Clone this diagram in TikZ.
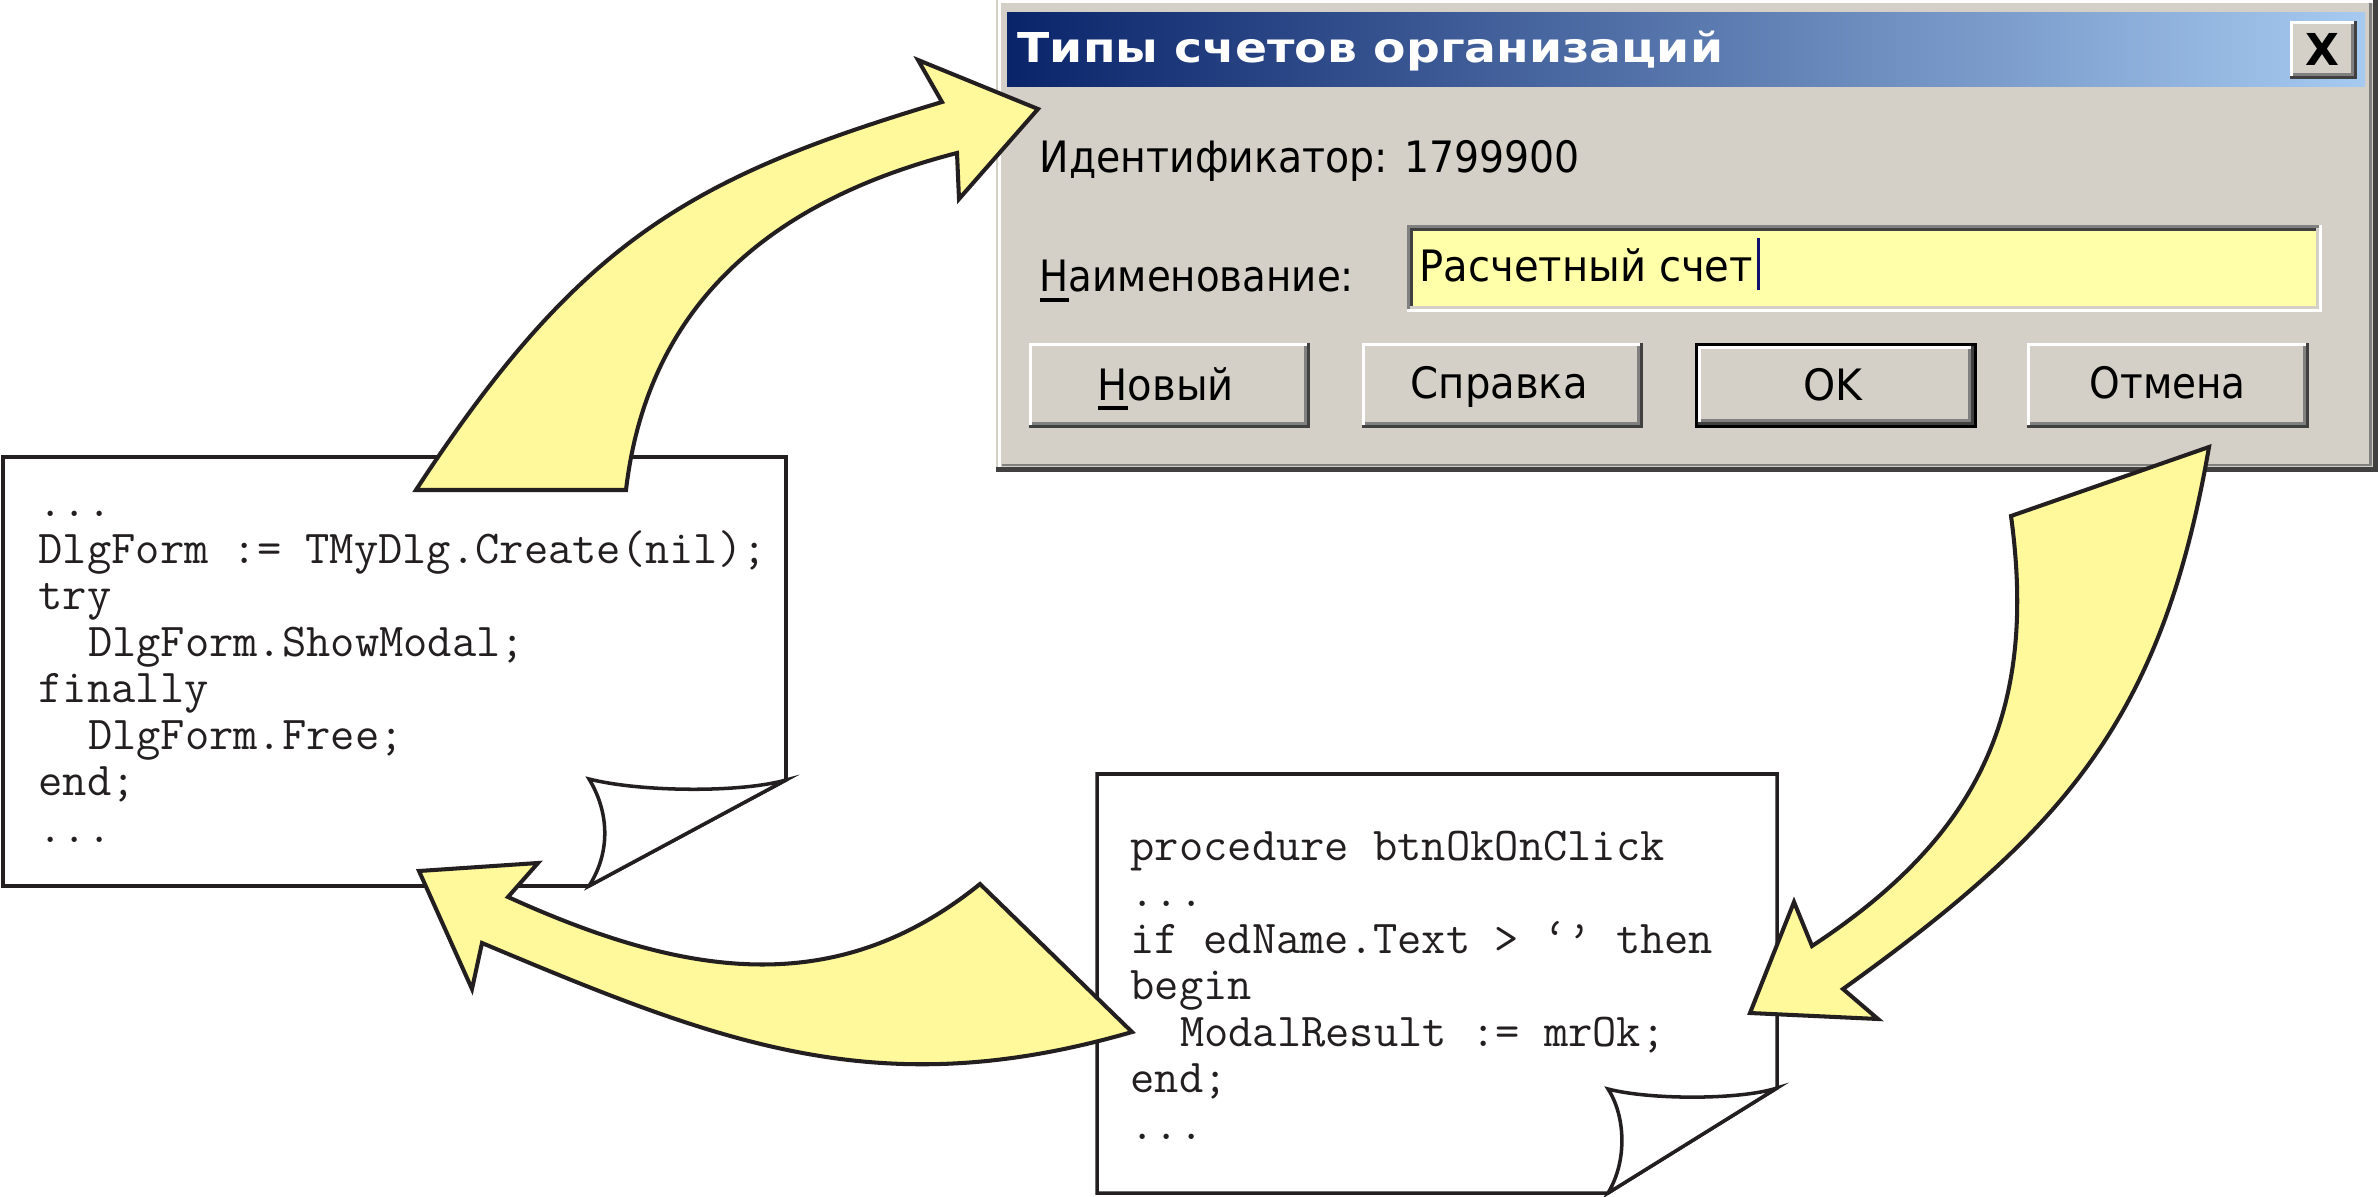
\documentclass[tikz,border=0pt]{standalone}
\usepackage{fontspec}
\usepackage{graphicx}
\newfontfamily\dlgfont{DejaVu Sans}
\definecolor{face}{RGB}{212,208,200}
\definecolor{dkshadow}{RGB}{64,64,64}
\definecolor{shadowc}{RGB}{128,128,128}
\definecolor{titleL}{RGB}{10,36,106}
\definecolor{titleR}{RGB}{166,202,240}
\definecolor{editbg}{RGB}{255,255,170}
\definecolor{arrowfill}{RGB}{255,249,155}
\definecolor{ink}{RGB}{35,31,32}
\definecolor{caret}{RGB}{16,16,112}
\newlength\ulw
\newcommand\ulc[1]{\settowidth\ulw{#1}\rlap{\rule[-0.22em]{\ulw}{0.07em}}#1}
\newcommand\fitw[2]{\resizebox{#1}{\height}{#2}}
\newcommand\raisedbtn[4]{%
  \fill[face] (#1,#2) rectangle (#3,#4);
  \draw[white, line width=0.85pt] (#1+1.5,#4-3) -- (#1+1.5,#2+1.5) -- (#3-3,#2+1.5);
  \draw[dkshadow, line width=0.85pt] (#1,#4-1.5) -- (#3-1.5,#4-1.5) -- (#3-1.5,#2);
  \draw[shadowc, line width=0.85pt] (#1+3,#4-4.5) -- (#3-4.5,#4-4.5) -- (#3-4.5,#2+3);
}
\begin{document}
\begin{tikzpicture}[x=0.01cm,y=-0.01cm,
  dlgtext/.style={inner sep=0pt, anchor=base west, text=black,
    font=\dlgfont\fontsize{12.3pt}{14pt}\selectfont},
  code/.style={inner sep=0pt, anchor=base west, text=ink,
    font=\ttfamily\fontsize{13.4pt}{15pt}\selectfont},
  bigarrow/.style={fill=arrowfill, draw=ink, line width=1.15pt, line join=miter},
  page/.style={fill=white, draw=ink, line width=1pt, line join=miter}]
\useasboundingbox (0,0) rectangle (2378,1197);
\fill[white] (0,0) rectangle (2378,1197);

% ---------- dialog window ----------
\fill[face] (996,0) rectangle (2378,472);
\draw[white, line width=0.85pt] (999.5,468) -- (999.5,1.5) -- (2373,1.5);
\draw[shadowc, line width=0.85pt] (1002,465) -- (2370,465) -- (2370,3);
\draw[dkshadow, line width=1.4pt] (996,469.5) -- (2375.5,469.5) -- (2375.5,0);
\shade[left color=titleL, right color=titleR] (1007,13) rectangle (2365,87);
\node[dlgtext, text=white, font=\dlgfont\bfseries\fontsize{11.7pt}{14pt}\selectfont]
  (title) at (1017,63) {\fitw{7.05cm}{Типы счетов организаций}};
\raisedbtn{2290}{21}{2357}{79}
\node[inner sep=0pt, font=\dlgfont\bfseries\fontsize{12.5pt}{14pt}\selectfont] (closex) at (2322,49) {X};

\node[dlgtext] (idlbl) at (1039,173) {\fitw{5.4cm}{Идентификатор: 1799900}};
\node[dlgtext] (namelbl) at (1039,292) {\fitw{3.14cm}{\ulc{Н}аименование:}};

% edit box
\fill[editbg] (1407,225) rectangle (2322,312);
\draw[shadowc, line width=0.85pt] (1408.5,311) -- (1408.5,226.5) -- (2321,226.5);
\draw[dkshadow, line width=0.85pt] (1411.5,308) -- (1411.5,229.5) -- (2318,229.5);
\draw[white, line width=0.85pt] (1407,310.5) -- (2320.5,310.5) -- (2320.5,225);
\draw[face, line width=0.85pt] (1410,307.5) -- (2317.5,307.5) -- (2317.5,228);
\node[dlgtext] (edtext) at (1419,282) {\fitw{3.33cm}{Расчетный счет}};
\draw[caret, line width=0.85pt] (1758,238) -- (1758,290);

% buttons
\raisedbtn{1029}{343}{1310}{428}
\raisedbtn{1362}{343}{1643}{428}
\fill[black] (1695,343) rectangle (1977,428);
\raisedbtn{1698}{346}{1974}{425}
\raisedbtn{2027}{343}{2309}{428}
\node[dlgtext] (bnew) at (1097,400) {\fitw{1.36cm}{\ulc{Н}овый}};
\node[dlgtext] (bhelp) at (1410,398) {\fitw{1.77cm}{Справка}};
\node[dlgtext] (bok) at (1803,400) {\fitw{0.59cm}{OK}};
\node[dlgtext] (bcancel) at (2089,398) {\fitw{1.56cm}{Отмена}};

% ---------- left code note ----------
\draw[page] (3,457) -- (786,457) -- (786,780) -- (589,886) -- (3,886) -- cycle;
\draw[page] (589,779) .. controls (640,792) and (740,793) .. (786,780)
  -- (589,886) .. controls (612,850) and (608,810) .. (589,779) -- cycle;
\node[code] (lc1) at (38,516.5) {...};
\node[code] (lc2) at (38,563) {DlgForm := TMyDlg.Create(nil);};
\node[code] (lc3) at (38,609.5) {try};
\node[code] (lc4) at (87.4,656) {DlgForm.ShowModal;};
\node[code] (lc5) at (38,702.5) {finally};
\node[code] (lc6) at (87.4,749) {DlgForm.Free;};
\node[code] (lc7) at (38,795.5) {end;};
\node[code] (lc8) at (38,842) {...};

% ---------- bottom code note ----------
\draw[page] (1097,774) -- (1777,774) -- (1777,1088) -- (1608,1193) -- (1097,1193) -- cycle;
\draw[page] (1608,1089) .. controls (1650,1100) and (1740,1100) .. (1777,1088)
  -- (1608,1193) .. controls (1628,1160) and (1625,1115) .. (1608,1089) -- cycle;
\node[code] (bc1) at (1130,860) {procedure btnOkOnClick};
\node[code] (bc2) at (1130,906.5) {...};
\node[code] (bc3) at (1130,953) {if edName.Text > ‘’ then};
\node[code] (bc4) at (1130,999.5) {begin};
\node[code] (bc5) at (1179.4,1046) {ModalResult := mrOk;};
\node[code] (bc6) at (1130,1092.5) {end;};
\node[code] (bc7) at (1130,1139) {...};

% ---------- big curved arrows ----------
\draw[bigarrow] (416,490) .. controls (580,239) and (692,177) .. (942,102)
  -- (918,60) -- (1038,109) -- (959,199) -- (957,153)
  .. controls (774,200) and (648,302) .. (626,490) -- cycle;
\draw[bigarrow] (2011,516) .. controls (2038,713) and (1978,837) .. (1812,946)
  -- (1794,902) -- (1750,1013) -- (1878,1019) -- (1843,989)
  .. controls (2066,829) and (2162,718) .. (2209,447) -- cycle;
\draw[bigarrow] (980,884) .. controls (833,1003) and (680,975) .. (508,897)
  -- (538,863) -- (419,871) -- (472,989) -- (482,943)
  .. controls (724,1045) and (880,1105) .. (1132,1032) -- cycle;
\end{tikzpicture}
\end{document}
